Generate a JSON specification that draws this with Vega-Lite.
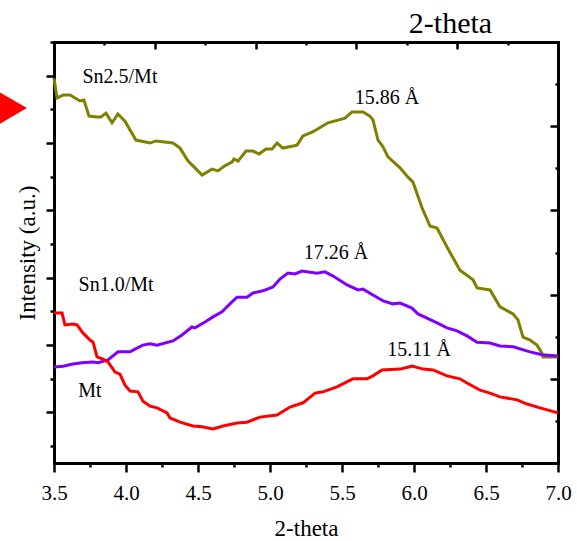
{
  "$schema": "https://vega.github.io/schema/vega-lite/v6.json",
  "width": 504,
  "height": 421,
  "autosize": {"type": "none"},
  "padding": {"left": 54, "top": 42, "right": 19, "bottom": 78},
  "background": "white",
  "config": {
    "view": {"stroke": null},
    "axis": {
      "domain": true,
      "domainColor": "black",
      "domainWidth": 3,
      "domainCap": "square",
      "tickColor": "black",
      "tickWidth": 2.5,
      "grid": false,
      "labelColor": "black",
      "titleColor": "black",
      "titleFontWeight": "normal"
    }
  },
  "datasets": {
    "curves": [
      {"s":"Sn2.5/Mt","x":3.5,"y":91.4},{"s":"Sn2.5/Mt","x":3.521,"y":86.7},{"s":"Sn2.5/Mt","x":3.563,"y":87.4},{"s":"Sn2.5/Mt","x":3.611,"y":87.4},{"s":"Sn2.5/Mt","x":3.681,"y":86.0},{"s":"Sn2.5/Mt","x":3.708,"y":86.2},{"s":"Sn2.5/Mt","x":3.743,"y":82.4},{"s":"Sn2.5/Mt","x":3.799,"y":82.2},{"s":"Sn2.5/Mt","x":3.826,"y":82.2},{"s":"Sn2.5/Mt","x":3.861,"y":83.1},{"s":"Sn2.5/Mt","x":3.903,"y":80.8},{"s":"Sn2.5/Mt","x":3.944,"y":82.9},{"s":"Sn2.5/Mt","x":3.993,"y":81.2},{"s":"Sn2.5/Mt","x":4.028,"y":79.1},{"s":"Sn2.5/Mt","x":4.069,"y":76.7},{"s":"Sn2.5/Mt","x":4.167,"y":76.0},{"s":"Sn2.5/Mt","x":4.208,"y":76.5},{"s":"Sn2.5/Mt","x":4.326,"y":76.0},{"s":"Sn2.5/Mt","x":4.375,"y":74.8},{"s":"Sn2.5/Mt","x":4.431,"y":71.7},{"s":"Sn2.5/Mt","x":4.479,"y":70.1},{"s":"Sn2.5/Mt","x":4.528,"y":68.4},{"s":"Sn2.5/Mt","x":4.597,"y":69.8},{"s":"Sn2.5/Mt","x":4.639,"y":69.4},{"s":"Sn2.5/Mt","x":4.681,"y":70.5},{"s":"Sn2.5/Mt","x":4.736,"y":71.5},{"s":"Sn2.5/Mt","x":4.75,"y":72.2},{"s":"Sn2.5/Mt","x":4.778,"y":71.7},{"s":"Sn2.5/Mt","x":4.833,"y":74.1},{"s":"Sn2.5/Mt","x":4.882,"y":74.1},{"s":"Sn2.5/Mt","x":4.924,"y":73.4},{"s":"Sn2.5/Mt","x":4.972,"y":74.6},{"s":"Sn2.5/Mt","x":5.014,"y":74.6},{"s":"Sn2.5/Mt","x":5.049,"y":76.0},{"s":"Sn2.5/Mt","x":5.09,"y":74.8},{"s":"Sn2.5/Mt","x":5.188,"y":75.5},{"s":"Sn2.5/Mt","x":5.229,"y":77.7},{"s":"Sn2.5/Mt","x":5.292,"y":78.6},{"s":"Sn2.5/Mt","x":5.319,"y":79.1},{"s":"Sn2.5/Mt","x":5.403,"y":80.8},{"s":"Sn2.5/Mt","x":5.521,"y":81.9},{"s":"Sn2.5/Mt","x":5.569,"y":83.4},{"s":"Sn2.5/Mt","x":5.646,"y":83.4},{"s":"Sn2.5/Mt","x":5.694,"y":82.4},{"s":"Sn2.5/Mt","x":5.715,"y":81.5},{"s":"Sn2.5/Mt","x":5.75,"y":76.7},{"s":"Sn2.5/Mt","x":5.785,"y":75.1},{"s":"Sn2.5/Mt","x":5.819,"y":72.7},{"s":"Sn2.5/Mt","x":5.903,"y":70.1},{"s":"Sn2.5/Mt","x":5.958,"y":67.9},{"s":"Sn2.5/Mt","x":5.993,"y":66.7},{"s":"Sn2.5/Mt","x":6.056,"y":60.6},{"s":"Sn2.5/Mt","x":6.111,"y":56.3},{"s":"Sn2.5/Mt","x":6.16,"y":55.8},{"s":"Sn2.5/Mt","x":6.229,"y":51.3},{"s":"Sn2.5/Mt","x":6.319,"y":45.8},{"s":"Sn2.5/Mt","x":6.41,"y":43.5},{"s":"Sn2.5/Mt","x":6.438,"y":41.6},{"s":"Sn2.5/Mt","x":6.528,"y":41.1},{"s":"Sn2.5/Mt","x":6.597,"y":37.1},{"s":"Sn2.5/Mt","x":6.688,"y":35.4},{"s":"Sn2.5/Mt","x":6.722,"y":34.0},{"s":"Sn2.5/Mt","x":6.757,"y":29.9},{"s":"Sn2.5/Mt","x":6.806,"y":29.2},{"s":"Sn2.5/Mt","x":6.854,"y":28.0},{"s":"Sn2.5/Mt","x":6.889,"y":26.1},{"s":"Sn2.5/Mt","x":6.896,"y":25.2},{"s":"Sn2.5/Mt","x":7.0,"y":25.2},

      {"s":"Sn1.0/Mt","x":3.5,"y":22.8},{"s":"Sn1.0/Mt","x":3.563,"y":23.0},{"s":"Sn1.0/Mt","x":3.632,"y":23.5},{"s":"Sn1.0/Mt","x":3.694,"y":23.8},{"s":"Sn1.0/Mt","x":3.771,"y":24.0},{"s":"Sn1.0/Mt","x":3.806,"y":23.8},{"s":"Sn1.0/Mt","x":3.875,"y":24.5},{"s":"Sn1.0/Mt","x":3.944,"y":26.4},{"s":"Sn1.0/Mt","x":4.028,"y":26.4},{"s":"Sn1.0/Mt","x":4.076,"y":27.3},{"s":"Sn1.0/Mt","x":4.118,"y":28.0},{"s":"Sn1.0/Mt","x":4.167,"y":28.3},{"s":"Sn1.0/Mt","x":4.215,"y":28.0},{"s":"Sn1.0/Mt","x":4.271,"y":28.5},{"s":"Sn1.0/Mt","x":4.326,"y":29.0},{"s":"Sn1.0/Mt","x":4.389,"y":30.4},{"s":"Sn1.0/Mt","x":4.458,"y":32.3},{"s":"Sn1.0/Mt","x":4.479,"y":32.1},{"s":"Sn1.0/Mt","x":4.549,"y":33.5},{"s":"Sn1.0/Mt","x":4.604,"y":34.7},{"s":"Sn1.0/Mt","x":4.667,"y":35.9},{"s":"Sn1.0/Mt","x":4.722,"y":37.8},{"s":"Sn1.0/Mt","x":4.771,"y":39.4},{"s":"Sn1.0/Mt","x":4.84,"y":39.4},{"s":"Sn1.0/Mt","x":4.882,"y":40.4},{"s":"Sn1.0/Mt","x":4.951,"y":40.9},{"s":"Sn1.0/Mt","x":5.021,"y":41.8},{"s":"Sn1.0/Mt","x":5.069,"y":43.7},{"s":"Sn1.0/Mt","x":5.125,"y":45.1},{"s":"Sn1.0/Mt","x":5.174,"y":44.9},{"s":"Sn1.0/Mt","x":5.222,"y":45.6},{"s":"Sn1.0/Mt","x":5.326,"y":45.1},{"s":"Sn1.0/Mt","x":5.382,"y":45.4},{"s":"Sn1.0/Mt","x":5.438,"y":44.4},{"s":"Sn1.0/Mt","x":5.535,"y":42.3},{"s":"Sn1.0/Mt","x":5.611,"y":41.1},{"s":"Sn1.0/Mt","x":5.646,"y":41.3},{"s":"Sn1.0/Mt","x":5.715,"y":39.9},{"s":"Sn1.0/Mt","x":5.785,"y":38.5},{"s":"Sn1.0/Mt","x":5.854,"y":37.8},{"s":"Sn1.0/Mt","x":5.903,"y":38.0},{"s":"Sn1.0/Mt","x":5.986,"y":36.8},{"s":"Sn1.0/Mt","x":6.028,"y":35.4},{"s":"Sn1.0/Mt","x":6.09,"y":34.4},{"s":"Sn1.0/Mt","x":6.16,"y":33.3},{"s":"Sn1.0/Mt","x":6.229,"y":32.1},{"s":"Sn1.0/Mt","x":6.299,"y":31.4},{"s":"Sn1.0/Mt","x":6.368,"y":30.2},{"s":"Sn1.0/Mt","x":6.438,"y":28.7},{"s":"Sn1.0/Mt","x":6.528,"y":28.5},{"s":"Sn1.0/Mt","x":6.597,"y":27.8},{"s":"Sn1.0/Mt","x":6.688,"y":27.6},{"s":"Sn1.0/Mt","x":6.806,"y":26.4},{"s":"Sn1.0/Mt","x":6.889,"y":25.7},{"s":"Sn1.0/Mt","x":7.0,"y":25.4},

      {"s":"Mt","x":3.5,"y":35.6},{"s":"Mt","x":3.556,"y":35.6},{"s":"Mt","x":3.576,"y":32.8},{"s":"Mt","x":3.632,"y":33.0},{"s":"Mt","x":3.66,"y":32.8},{"s":"Mt","x":3.701,"y":30.9},{"s":"Mt","x":3.75,"y":29.2},{"s":"Mt","x":3.771,"y":28.7},{"s":"Mt","x":3.799,"y":25.2},{"s":"Mt","x":3.84,"y":24.7},{"s":"Mt","x":3.875,"y":24.0},{"s":"Mt","x":3.924,"y":21.6},{"s":"Mt","x":3.958,"y":21.1},{"s":"Mt","x":3.993,"y":18.5},{"s":"Mt","x":4.028,"y":17.1},{"s":"Mt","x":4.083,"y":16.9},{"s":"Mt","x":4.118,"y":14.7},{"s":"Mt","x":4.167,"y":13.5},{"s":"Mt","x":4.215,"y":13.1},{"s":"Mt","x":4.285,"y":11.9},{"s":"Mt","x":4.306,"y":10.7},{"s":"Mt","x":4.375,"y":9.7},{"s":"Mt","x":4.465,"y":8.8},{"s":"Mt","x":4.528,"y":8.6},{"s":"Mt","x":4.604,"y":8.1},{"s":"Mt","x":4.674,"y":8.8},{"s":"Mt","x":4.771,"y":9.5},{"s":"Mt","x":4.84,"y":9.7},{"s":"Mt","x":4.931,"y":10.9},{"s":"Mt","x":5.049,"y":11.4},{"s":"Mt","x":5.139,"y":13.3},{"s":"Mt","x":5.229,"y":14.3},{"s":"Mt","x":5.313,"y":16.6},{"s":"Mt","x":5.368,"y":16.9},{"s":"Mt","x":5.465,"y":18.1},{"s":"Mt","x":5.576,"y":20.0},{"s":"Mt","x":5.674,"y":20.0},{"s":"Mt","x":5.715,"y":20.7},{"s":"Mt","x":5.778,"y":22.1},{"s":"Mt","x":5.903,"y":22.3},{"s":"Mt","x":5.986,"y":23.0},{"s":"Mt","x":6.063,"y":22.3},{"s":"Mt","x":6.132,"y":22.1},{"s":"Mt","x":6.229,"y":20.7},{"s":"Mt","x":6.319,"y":20.0},{"s":"Mt","x":6.368,"y":19.0},{"s":"Mt","x":6.458,"y":17.3},{"s":"Mt","x":6.528,"y":16.6},{"s":"Mt","x":6.597,"y":15.7},{"s":"Mt","x":6.715,"y":15.0},{"s":"Mt","x":6.785,"y":14.0},{"s":"Mt","x":6.875,"y":13.1},{"s":"Mt","x":7.0,"y":11.9}
    ],
    "labels": [
      {"t":"Sn2.5/Mt","x":3.958,"y":90.3},
      {"t":"15.86 Å","x":5.8125,"y":85.3},
      {"t":"17.26 Å","x":5.458,"y":48.5},
      {"t":"Sn1.0/Mt","x":3.931,"y":40.9},
      {"t":"Mt","x":3.75,"y":15.7},
      {"t":"15.11 Å","x":6.035,"y":25.4}
    ],
    "marker": [{"x":3.216,"y":84.3}]
  },
  "layer": [
    {
      "data": {"name": "curves"},
      "mark": {"type": "line", "strokeWidth": 3},
      "encoding": {
        "x": {
          "field": "x", "type": "quantitative",
          "scale": {"domain": [3.5, 7.0], "nice": false, "zero": false},
          "axis": {
            "orient": "bottom",
            "values": [3.5,3.75,4.0,4.25,4.5,4.75,5.0,5.25,5.5,5.75,6.0,6.25,6.5,6.75,7.0],
            "labelExpr": "round(datum.value*4)%2==0 ? format(datum.value, '.1f') : ''",
            "labelFlush": false,
            "labelOverlap": false,
            "labelFont": "serif",
            "labelFontSize": 21,
            "labelBaseline": "alphabetic",
            "labelPadding": 27,
            "tickSize": {"condition": {"test": "round(datum.value*4)%2==0", "value": 9}, "value": 4},
            "title": "2-theta",
            "titleFont": "serif",
            "titleFontSize": 23,
            "titleX": 252,
            "titleY": 72,
            "titleAlign": "center",
            "titleBaseline": "alphabetic"
          }
        },
        "y": {
          "field": "y", "type": "quantitative",
          "scale": {"domain": [0, 100], "nice": false, "zero": false},
          "axis": {
            "orient": "left",
            "values": [4,12,20,28,36,44,52,60,68,76,84,92,100],
            "labels": false,
            "tickSize": {"condition": {"test": "(datum.value-4)%16==8", "value": 8}, "value": 4},
            "title": "Intensity (a.u.)",
            "titleFont": "serif",
            "titleFontSize": 23,
            "titleX": -27,
            "titleY": 210.5,
            "titleAngle": -90,
            "titleAlign": "center",
            "titleBaseline": "middle"
          }
        },
        "color": {
          "field": "s", "type": "nominal",
          "scale": {"domain": ["Sn2.5/Mt", "Sn1.0/Mt", "Mt"], "range": ["#808000", "#8000FF", "#FF0000"]},
          "legend": null
        }
      }
    },
    {
      "data": {"name": "labels"},
      "mark": {"type": "text", "fontSize": 20, "font": "serif", "align": "center", "baseline": "alphabetic", "color": "black"},
      "encoding": {
        "x": {
          "field": "x", "type": "quantitative",
          "scale": {"domain": [3.5, 7.0], "nice": false, "zero": false},
          "axis": {
            "orient": "top",
            "domain": true,
            "values": [3.5,3.85,4.2,4.55,4.9,5.25,5.6,5.95,6.3,6.65,7.0],
            "labels": false,
            "tickSize": {"condition": {"test": "round((datum.value-3.5)/0.35)%2==0", "value": -7}, "value": -3},
            "title": "2-theta",
            "titleFont": "serif",
            "titleFontSize": 30,
            "titleX": 396,
            "titleY": -10,
            "titleAlign": "center",
            "titleBaseline": "alphabetic",
            "titleAngle": 0
          }
        },
        "y": {
          "field": "y", "type": "quantitative",
          "scale": {"domain": [0, 100], "nice": false, "zero": false},
          "axis": {
            "orient": "right",
            "domain": true,
            "values": [0,10,20,30,40,50,60,70,80,90,100],
            "labels": false,
            "tickSize": {"condition": {"test": "datum.value%20==0", "value": -8}, "value": -3},
            "title": null
          }
        },
        "text": {"field": "t"}
      }
    },
    {
      "data": {"name": "marker"},
      "mark": {"type": "point", "shape": "triangle-right", "filled": true, "size": 1024, "color": "#FF0000", "opacity": 1},
      "encoding": {
        "x": {"field": "x", "type": "quantitative", "scale": {"domain": [3.5, 7.0], "nice": false, "zero": false}, "axis": null},
        "y": {"field": "y", "type": "quantitative", "scale": {"domain": [0, 100], "nice": false, "zero": false}, "axis": null}
      }
    }
  ],
  "resolve": {"axis": {"x": "independent", "y": "independent"}}
}
